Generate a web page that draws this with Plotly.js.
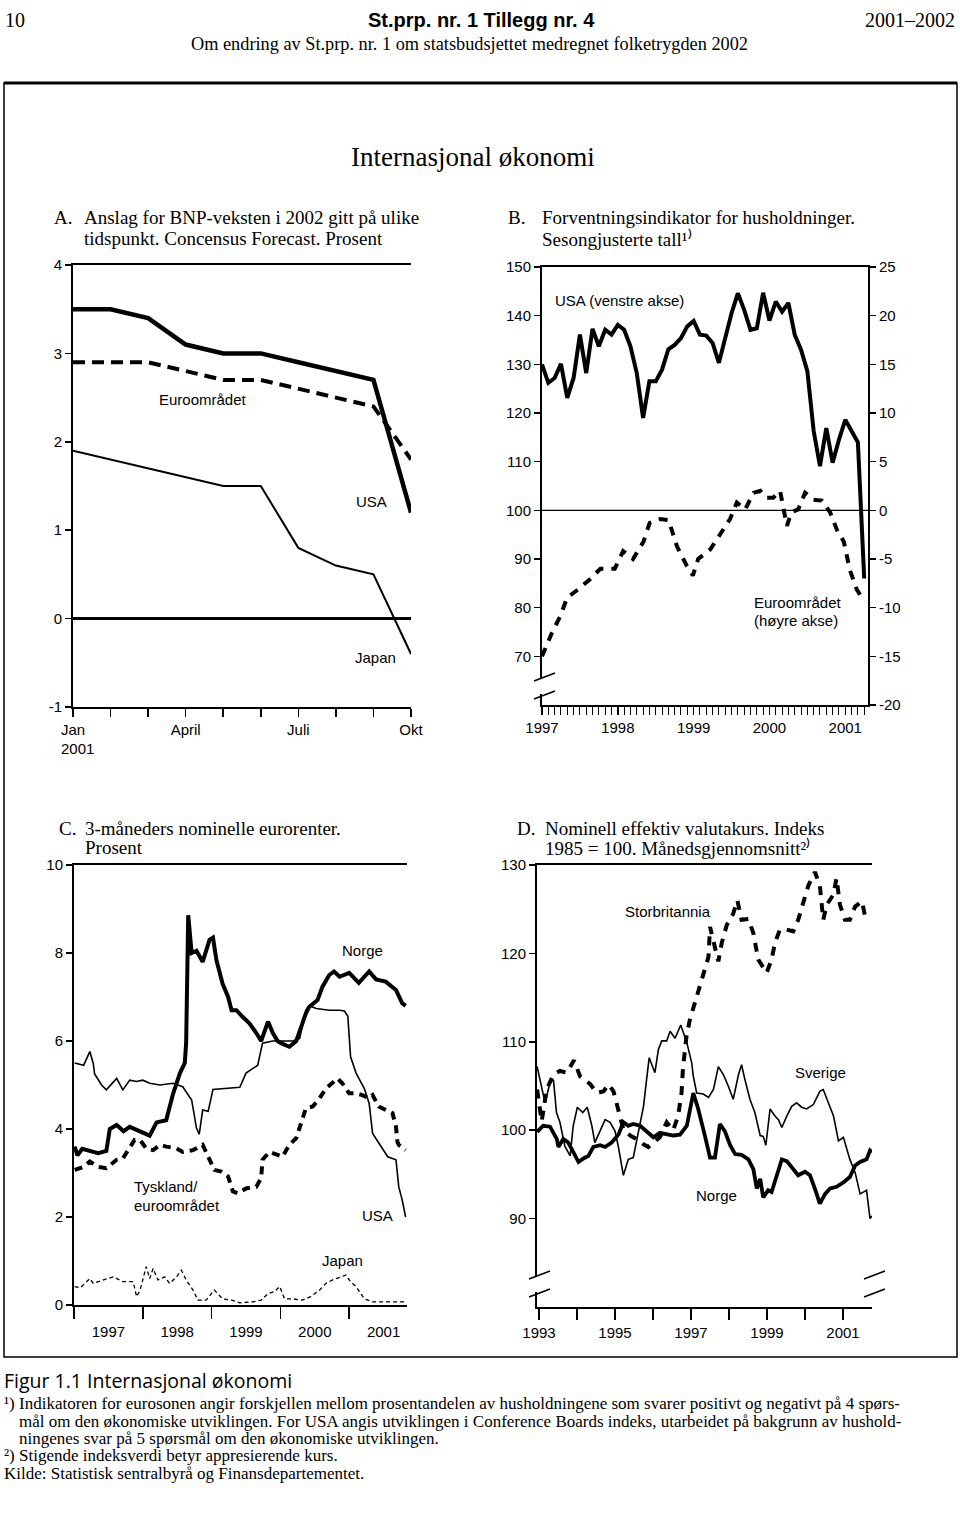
<!DOCTYPE html>
<html>
<head>
<meta charset="utf-8">
<script src="https://cdn.plot.ly/plotly-3.0.1.min.js"></script>
<style>html,body{margin:0;padding:0;background:#fff;}#chart{width:960px;height:1520px;}</style>
</head>
<body>
<div id="chart"></div>
<script>
// ---------- Panel A: BNP-vekst 2002, Consensus Forecast (Jan..Okt 2001) ----------
const monthsA = [0,1,2,3,4,5,6,7,8,9];
const labelMonthsA = [0,3,6,9];
const monthLabelsA = ['Jan','April','Juli','Okt'];
const minorMonthsA = [1,2,4,5,7,8];
const usaA   = [3.5,3.5,3.4,3.1,3.0,3.0,2.9,2.8,2.7,1.2];
const euroA  = [2.9,2.9,2.9,2.8,2.7,2.7,2.6,2.5,2.4,1.8];
const japanA = [1.9,1.8,1.7,1.6,1.5,1.5,0.8,0.6,0.5,-0.4];
const ticksA = [-1,0,1,2,3,4];
const tickTextA = ['-1','0','1','2','3','4'];

// ---------- Panel B: Forventningsindikator (monthly from Jan 1997) ----------
const usaB = [130,126.2,127.2,130.1,123.1,127.2,136.1,128.2,137.3,133.7,137.1,136.1,
  138.1,137.1,133.7,128.2,119,126.5,126.5,128.9,133.1,134,135.4,137.8,
  138.9,136.1,135.9,134.4,130.3,135.8,140.5,144.6,141.2,137.1,137.4,144.7,
  139,142.9,140.8,142.6,136.1,133,128.6,116.3,109.1,116.9,109.8,114.5,
  118.6,116.3,114,86];
const euroBx = [1997.00,1997.13,1997.24,1997.33,1997.48,1997.63,1997.77,1997.96,1998.07,1998.20,
  1998.34,1998.42,1998.56,1998.67,1998.78,1998.91,1998.99,1999.06,1999.22,1999.35,
  1999.48,1999.57,1999.68,1999.79,1999.88,1999.96,2000.05,2000.14,2000.23,2000.29,
  2000.38,2000.47,2000.58,2000.69,2000.80,2000.89,2000.98,2001.06,2001.15,2001.22];
const euroBy = [-15.0,-12.6,-10.9,-9.0,-8.1,-7.1,-6.0,-6.0,-4.2,-5.0,
  -3.2,-1.3,-0.9,-1.0,-3.7,-5.7,-6.7,-5.0,-4.0,-2.5,
  -0.9,0.8,0.1,1.8,2.0,1.3,1.3,2.0,-1.6,-0.2,
  0.1,1.8,1.1,1.0,-0.2,-2.0,-3.2,-6.1,-8.1,-9.0];
const yearsB = [1997,1998,1999,2000,2001];
const leftTicksB = [70,80,90,100,110,120,130,140,150];
const rightTicksB = [-20,-15,-10,-5,0,5,10,15,20,25];

// ---------- Panel C: 3-måneders eurorenter ----------
const norgeCx = [1997.01,1997.05,1997.12,1997.23,1997.35,1997.47,1997.52,1997.62,1997.72,1997.81,
  1997.96,1998.10,1998.20,1998.34,1998.44,1998.54,1998.61,1998.63,1998.66,1998.71,
  1998.78,1998.82,1998.87,1998.92,1998.97,1999.02,1999.07,1999.16,1999.24,1999.29,
  1999.36,1999.45,1999.55,1999.65,1999.72,1999.82,1999.89,1999.96,2000.01,2000.13,
  2000.23,2000.32,2000.37,2000.42,2000.54,2000.61,2000.71,2000.78,2000.86,2001.00,
  2001.14,2001.29,2001.39,2001.53,2001.68,2001.77,2001.82];
const norgeCy = [3.6,3.4,3.55,3.5,3.45,3.5,4.0,4.09,3.95,4.05,
  3.95,3.85,4.15,4.2,4.8,5.27,5.5,5.95,8.86,8.0,
  8.05,7.95,7.8,8.05,8.3,8.35,7.84,7.3,7.0,6.7,
  6.7,6.55,6.4,6.18,6.0,6.44,6.18,6.0,5.95,5.87,
  6.0,6.4,6.63,6.78,6.93,7.23,7.5,7.58,7.46,7.55,
  7.32,7.58,7.4,7.35,7.16,6.86,6.8];
const usaCx = [1997.01,1997.14,1997.23,1997.28,1997.30,1997.40,1997.47,1997.62,1997.71,1997.81,
  1997.91,1998.00,1998.10,1998.25,1998.44,1998.58,1998.71,1998.78,1998.82,1998.87,
  1998.95,1999.02,1999.41,1999.50,1999.67,1999.74,1999.89,2000.18,2000.28,2000.37,
  2000.42,2000.52,2000.71,2000.86,2000.93,2000.98,2001.02,2001.10,2001.22,2001.29,
  2001.34,2001.43,2001.56,2001.68,2001.72,2001.77,2001.82];
const usaCy = [5.5,5.45,5.76,5.49,5.25,5.0,4.89,5.15,4.89,5.11,
  5.08,5.11,5.04,5.0,5.04,4.96,4.66,4.02,3.88,4.43,
  4.4,4.9,4.95,5.27,5.45,5.95,6.0,6.0,6.06,6.7,
  6.8,6.74,6.7,6.7,6.68,6.56,5.64,5.27,4.92,4.58,
  3.9,3.67,3.37,3.3,2.69,2.39,2.0];
const tyskCx = [1997.01,1997.14,1997.23,1997.35,1997.47,1997.62,1997.71,1997.81,1997.88,1997.96,
  1998.05,1998.15,1998.25,1998.34,1998.49,1998.58,1998.73,1998.87,1998.97,1999.04,
  1999.14,1999.24,1999.31,1999.38,1999.50,1999.65,1999.72,1999.74,1999.84,1999.94,
  2000.03,2000.13,2000.23,2000.30,2000.37,2000.47,2000.57,2000.66,2000.76,2000.83,
  2000.90,2001.00,2001.10,2001.19,2001.29,2001.34,2001.43,2001.53,2001.63,2001.68,
  2001.70,2001.72,2001.82];
const tyskCy = [3.07,3.14,3.26,3.14,3.11,3.3,3.33,3.6,3.75,3.75,
  3.56,3.52,3.64,3.6,3.56,3.48,3.52,3.64,3.3,3.07,
  3.03,2.92,2.58,2.54,2.65,2.69,2.88,3.3,3.48,3.41,
  3.37,3.64,3.79,4.13,4.47,4.51,4.7,4.92,5.04,5.15,
  5.04,4.81,4.81,4.77,4.7,4.77,4.51,4.43,4.36,4.05,
  3.71,3.64,3.52];
const japanCx = [1997.01,1997.09,1997.23,1997.28,1997.43,1997.57,1997.71,1997.86,1997.91,1997.96,
  1998.05,1998.10,1998.15,1998.22,1998.32,1998.39,1998.49,1998.56,1998.63,1998.73,
  1998.80,1998.92,1999.04,1999.16,1999.29,1999.41,1999.60,1999.72,1999.82,1999.91,
  1999.99,2000.06,2000.18,2000.32,2000.44,2000.57,2000.66,2000.76,2000.88,2000.95,
  2001.02,2001.10,2001.22,2001.34,2001.53,2001.80];
const japanCy = [0.42,0.39,0.6,0.49,0.57,0.64,0.53,0.53,0.19,0.34,
  0.87,0.6,0.83,0.57,0.64,0.49,0.64,0.79,0.57,0.34,
  0.11,0.11,0.34,0.14,0.11,0.05,0.07,0.11,0.26,0.3,
  0.42,0.14,0.14,0.11,0.19,0.34,0.49,0.57,0.64,0.68,
  0.53,0.42,0.14,0.07,0.07,0.07];
const yearsC = [1997,1998,1999,2000,2001];
const ticksC = [0,2,4,6,8,10];

// ---------- Panel D: Nominell effektiv valutakurs ----------
const norgeDx = [1992.95,1993.11,1993.29,1993.47,1993.51,1993.64,1993.77,1993.90,1994.04,1994.17,
  1994.30,1994.43,1994.61,1994.74,1994.91,1995.09,1995.22,1995.35,1995.48,1995.66,
  1995.83,1996.01,1996.18,1996.36,1996.53,1996.71,1996.89,1997.06,1997.19,1997.37,
  1997.50,1997.63,1997.76,1997.89,1998.03,1998.16,1998.33,1998.51,1998.64,1998.73,
  1998.82,1998.90,1999.03,1999.12,1999.25,1999.39,1999.52,1999.69,1999.82,2000.00,
  2000.13,2000.26,2000.39,2000.53,2000.66,2000.83,2001.01,2001.18,2001.32,2001.45,
  2001.62,2001.71,2001.76];
const norgeDy = [99.8,100.5,100.4,99.0,98.1,99.0,98.6,97.5,96.4,96.8,
  97.1,98.1,98.3,98.1,98.6,99.5,100.9,100.5,100.7,100.5,
  99.9,99.2,99.7,99.5,99.4,99.5,100.5,104.2,102.4,99.3,
  96.9,96.9,100.7,99.9,98.3,97.3,97.2,96.7,95.6,93.4,
  94.5,92.4,93.2,93.0,94.9,96.7,96.5,95.6,94.9,95.3,
  94.9,93.4,91.7,92.8,93.4,93.6,94.1,94.7,96.0,96.4,
  96.7,97.7,97.5];
const sverigeDx = [1992.95,1993.07,1993.16,1993.29,1993.38,1993.46,1993.55,1993.68,1993.82,1993.90,
  1994.01,1994.15,1994.27,1994.39,1994.47,1994.74,1994.87,1995.00,1995.09,1995.22,
  1995.35,1995.48,1995.61,1995.75,1995.83,1995.90,1996.05,1996.14,1996.23,1996.36,
  1996.45,1996.58,1996.73,1996.89,1997.02,1997.06,1997.15,1997.32,1997.46,1997.59,
  1997.72,1997.85,1997.98,1998.11,1998.25,1998.33,1998.42,1998.55,1998.68,1998.82,
  1998.90,1998.97,1999.08,1999.21,1999.30,1999.39,1999.52,1999.65,1999.78,1999.91,
  2000.04,2000.22,2000.39,2000.48,2000.75,2000.88,2001.01,2001.18,2001.32,2001.45,
  2001.62,2001.71,2001.76];
const sverigeDy = [107.2,105,103.1,105.4,105.7,102,100.9,98.2,97.1,100.5,
  102.6,102,102.6,100.5,98.6,101.2,100.9,99.9,98.1,94.9,
  96.7,96.9,99.5,102.7,105.7,108.2,106.5,109.1,110.1,110.1,
  111.2,110.4,111.9,109.9,107.6,106.1,104.2,104.1,103.7,104.6,
  107.2,106.3,105,103.5,106.3,107.4,105.7,103.5,102,99.4,
  99.3,98.3,102.4,101.6,101.2,100.3,101.6,102.7,103.1,102.6,
  102.4,102.9,104.4,104.6,101.6,98.8,99.2,96.7,95.2,92.8,
  93.2,90,90.3];
const ukDx = [1992.95,1993.07,1993.20,1993.38,1993.55,1993.73,1993.92,1994.08,1994.35,1994.52,
  1994.70,1994.83,1994.96,1995.09,1995.22,1995.40,1995.57,1995.75,1995.88,1996.01,
  1996.18,1996.36,1996.53,1996.66,1996.75,1996.79,1996.88,1996.97,1997.14,1997.28,
  1997.46,1997.50,1997.59,1997.72,1997.81,1997.94,1998.11,1998.22,1998.33,1998.51,
  1998.64,1998.77,1998.99,1999.12,1999.21,1999.34,1999.51,1999.69,1999.82,1999.96,
  2000.09,2000.26,2000.39,2000.48,2000.57,2000.74,2000.83,2000.92,2001.05,2001.18,
  2001.32,2001.50,2001.58,2001.67];
const ukDy = [104.6,101,104.6,106.3,106.7,106.5,107.9,106.1,105.2,104.2,
  104.4,105.2,104.4,102.4,100.1,99.4,99.0,98.4,98.1,98.6,
  99.2,100.9,100,101.6,104.2,107.1,110.6,112.5,115.1,117,
  119.6,123,121.2,119.1,121.2,123.2,124.5,126,123.8,123.9,
  122.3,119.3,117.8,119.3,121.2,122.7,122.7,122.5,123.8,126,
  127.7,129.2,127.7,123.8,125.5,126.6,128.5,125.5,123.8,123.8,
  125.3,125.9,124.2,124.2];
const labelYearsD = [1993,1995,1997,1999,2001];
const minorYearsD = [1994,1996,1998,2000];
const ticksD = [90,100,110,120,130];

// ---------- helpers ----------
const W = 960, H = 1520;
const PX = v => v / W, PY = v => 1 - v / H;
const SANS = 'Liberation Sans, Arial, sans-serif';
const SERIF = 'Liberation Serif, Times New Roman, serif';
const tickFont = {family: SANS, size: 15, color: '#000'};
const base = {showline: true, linecolor: '#000', linewidth: 2, ticks: 'outside', tickcolor: '#000',
  tickwidth: 1.5, showgrid: false, zeroline: false, tickfont: tickFont, fixedrange: true};
function ax(extra) { return Object.assign({}, base, extra); }
const str = v => String(v);
const monthDates = usaB.map((_, i) => 1997 + i / 12);

const traces = [
  // A
  {x: monthsA, y: japanA, xaxis: 'x', yaxis: 'y', mode: 'lines', line: {color: '#000', width: 2}},
  {x: monthsA, y: euroA, xaxis: 'x', yaxis: 'y', mode: 'lines', line: {color: '#000', width: 4, dash: '12px,7px'}},
  {x: monthsA, y: usaA, xaxis: 'x', yaxis: 'y', mode: 'lines', line: {color: '#000', width: 4.5}},
  // B
  {x: monthDates, y: usaB, xaxis: 'x2', yaxis: 'y3', mode: 'lines', line: {color: '#000', width: 4}},
  {x: euroBx, y: euroBy, xaxis: 'x2', yaxis: 'y4', mode: 'lines', line: {color: '#000', width: 4, dash: '9px,8px'}},
  // C
  {x: japanCx, y: japanCy, xaxis: 'x3', yaxis: 'y5', mode: 'lines', line: {color: '#000', width: 1.3, dash: '4px,3px'}},
  {x: tyskCx, y: tyskCy, xaxis: 'x3', yaxis: 'y5', mode: 'lines', line: {color: '#000', width: 4, dash: '8px,6px'}},
  {x: usaCx, y: usaCy, xaxis: 'x3', yaxis: 'y5', mode: 'lines', line: {color: '#000', width: 1.6}},
  {x: norgeCx, y: norgeCy, xaxis: 'x3', yaxis: 'y5', mode: 'lines', line: {color: '#000', width: 4}},
  // D
  {x: ukDx, y: ukDy, xaxis: 'x4', yaxis: 'y7', mode: 'lines', line: {color: '#000', width: 4, dash: '9px,8px'}},
  {x: sverigeDx, y: sverigeDy, xaxis: 'x4', yaxis: 'y7', mode: 'lines', line: {color: '#000', width: 1.6}},
  {x: norgeDx, y: norgeDy, xaxis: 'x4', yaxis: 'y7', mode: 'lines', line: {color: '#000', width: 3.8}}
];

const layout = {
  width: W, height: H, margin: {l: 0, r: 0, t: 0, b: 0}, showlegend: false,
  paper_bgcolor: '#fff', plot_bgcolor: 'rgba(0,0,0,0)',
  // A
  xaxis: ax({domain: [PX(73), PX(411)], anchor: 'y', range: [0, 9], tickmode: 'array', tickvals: labelMonthsA,
    ticktext: monthLabelsA, ticklen: 8, mirror: true,
    minor: {tickmode: 'array', tickvals: minorMonthsA, ticks: 'outside', ticklen: 8, tickwidth: 1.5, tickcolor: '#000'}}),
  yaxis: ax({domain: [PY(707), PY(265)], anchor: 'x', range: [-1, 4], tickmode: 'array', tickvals: ticksA,
    ticktext: tickTextA, ticklen: 6, zeroline: true, zerolinewidth: 2.5, zerolinecolor: '#000'}),
  yaxis2: ax({overlaying: 'y', side: 'right', anchor: 'x', range: [-1, 4], tickmode: 'array', tickvals: ticksA,
    ticktext: tickTextA, ticklen: 6}),
  // B
  xaxis2: ax({domain: [PX(542), PX(868)], anchor: 'y3', range: [1997, 2001.3], tickmode: 'array',
    tickvals: yearsB, ticktext: yearsB.map(String), ticklen: 8, mirror: true,
    minor: {tickmode: 'linear', tick0: 1997, dtick: 1 / 12, ticks: 'outside', ticklen: 8, tickwidth: 1, tickcolor: '#000'}}),
  yaxis3: ax({domain: [PY(705), PY(267)], anchor: 'x2', range: [60, 150], tickmode: 'array',
    tickvals: leftTicksB, ticktext: leftTicksB.map(str), ticklen: 6}),
  yaxis4: ax({overlaying: 'y3', side: 'right', anchor: 'x2', range: [-20, 25], tickmode: 'array',
    tickvals: rightTicksB, ticktext: rightTicksB.map(str), ticklen: 6}),
  // C
  xaxis3: ax({domain: [PX(74), PX(407)], anchor: 'y5', range: [1997, 2001.84], tickmode: 'array',
    tickvals: yearsC.map(v => v + 0.5), ticktext: yearsC.map(String), ticklen: 12, tickcolor: 'rgba(0,0,0,0)', mirror: true,
    minor: {tickmode: 'array', tickvals: yearsC, ticks: 'outside', ticklen: 12, tickwidth: 1.5, tickcolor: '#000'}}),
  yaxis5: ax({domain: [PY(1305), PY(865)], anchor: 'x3', range: [0, 10], tickmode: 'array', tickvals: ticksC,
    ticktext: ticksC.map(str), ticklen: 6}),
  yaxis6: ax({overlaying: 'y5', side: 'right', anchor: 'x3', range: [0, 10], tickmode: 'array', tickvals: ticksC,
    ticktext: ticksC.map(str), ticklen: 6}),
  // D
  xaxis4: ax({domain: [PX(537), PX(872)], anchor: 'y7', range: [1992.947, 2001.763], tickmode: 'array',
    tickvals: labelYearsD, ticktext: labelYearsD.map(String), ticklen: 11, mirror: true,
    minor: {tickmode: 'array', tickvals: minorYearsD, ticks: 'outside', ticklen: 11, tickwidth: 1.5, tickcolor: '#000'}}),
  yaxis7: ax({domain: [PY(1307), PY(865)], anchor: 'x4', range: [80, 130], tickmode: 'array',
    tickvals: ticksD, ticktext: ticksD.map(str), ticklen: 6}),
  yaxis8: ax({overlaying: 'y7', side: 'right', anchor: 'x4', range: [80, 130], tickmode: 'array',
    tickvals: ticksD, ticktext: ticksD.map(str), ticklen: 6}),
  shapes: [],
  annotations: []
};

// outer frame
layout.shapes.push({type: 'rect', xref: 'paper', yref: 'paper', x0: PX(4), x1: PX(957), y0: PY(1357), y1: PY(83),
  line: {color: '#000', width: 1.5}, layer: 'below'});
layout.shapes.push({type: 'line', xref: 'paper', yref: 'paper', x0: PX(4), x1: PX(957), y0: PY(83), y1: PY(83),
  line: {color: '#000', width: 3}});
// B: reference line at right-axis zero
layout.shapes.push({type: 'line', xref: 'x2 domain', yref: 'y4', x0: 0, x1: 1, y0: 0, y1: 0,
  line: {color: '#000', width: 1.3}});
// axis break marks
function brk(x, yTop, yBot) {
  layout.shapes.push({type: 'rect', xref: 'paper', yref: 'paper', x0: PX(x - 4), x1: PX(x + 4),
    y0: PY(yBot - 1), y1: PY(yTop + 1), fillcolor: '#fff', line: {width: 0}});
  layout.shapes.push({type: 'line', xref: 'paper', yref: 'paper', x0: PX(x - 8), x1: PX(x + 13),
    y0: PY(yTop + 4), y1: PY(yTop - 4), line: {color: '#000', width: 1.5}});
  layout.shapes.push({type: 'line', xref: 'paper', yref: 'paper', x0: PX(x - 8), x1: PX(x + 13),
    y0: PY(yBot + 4), y1: PY(yBot - 4), line: {color: '#000', width: 1.5}});
}
brk(542, 677, 695);
brk(537, 1275, 1293);
brk(872, 1275, 1293);

function txt(text, x, y, opt) {
  opt = opt || {};
  layout.annotations.push({text: text, xref: 'paper', yref: 'paper', x: PX(x), y: PY(y), showarrow: false,
    xanchor: opt.anchor || 'left', yanchor: 'middle',
    font: {family: opt.family || SANS, size: opt.size || 15, color: '#000', weight: opt.weight || 'normal'}});
}
// header
txt('10', 3, 20, {family: SERIF, size: 20});
txt('St.prp. nr. 1 Tillegg nr. 4', 481, 20, {family: 'Liberation Sans Narrow, Arial Narrow, Liberation Sans, sans-serif', size: 20, weight: 'bold', anchor: 'center'});
txt('2001–2002', 957, 20, {family: SERIF, size: 20, anchor: 'right'});
txt('Om endring av St.prp. nr. 1 om statsbudsjettet medregnet folketrygden 2002', 469, 44, {family: SERIF, size: 18.3, anchor: 'center'});
txt('Internasjonal økonomi', 473, 157, {family: SERIF, size: 27, anchor: 'center'});
// panel titles
const TS = 19;
txt('A.', 52, 218, {family: SERIF, size: TS});
txt('Anslag for BNP-veksten i 2002 gitt på ulike', 82, 218, {family: SERIF, size: TS});
txt('tidspunkt. Concensus Forecast. Prosent', 82, 239, {family: SERIF, size: TS});
txt('B.', 506, 218, {family: SERIF, size: TS});
txt('Forventningsindikator for husholdninger.', 540, 218, {family: SERIF, size: TS});
txt('Sesongjusterte tall¹⁾', 540, 239, {family: SERIF, size: TS});
txt('C.', 57, 828, {family: SERIF, size: TS});
txt('3-måneders nominelle eurorenter.', 83, 828, {family: SERIF, size: TS});
txt('Prosent', 83, 848, {family: SERIF, size: TS});
txt('D.', 515, 828, {family: SERIF, size: TS});
txt('Nominell effektiv valutakurs. Indeks', 543, 828, {family: SERIF, size: TS});
txt('1985 = 100. Månedsgjennomsnitt²⁾', 543, 848, {family: SERIF, size: TS});
// panel A labels
txt('Euroområdet', 203, 400, {anchor: 'center'});
txt('USA', 371, 501, {anchor: 'center'});
txt('Japan', 375, 657, {anchor: 'center'});
txt('2001', 77, 748, {anchor: 'center'});
// panel B labels
txt('USA (venstre akse)', 553, 300);
txt('Euroområdet', 752, 602);
txt('(høyre akse)', 752, 620);
// panel C labels
txt('Norge', 362, 950, {anchor: 'center'});
txt('Tyskland/', 132, 1186);
txt('euroområdet', 132, 1205);
txt('USA', 377, 1215, {anchor: 'center'});
txt('Japan', 342, 1260, {anchor: 'center'});
// panel D labels
txt('Storbritannia', 668, 911, {anchor: 'center'});
txt('Sverige', 820, 1072, {anchor: 'center'});
txt('Norge', 716, 1195, {anchor: 'center'});
// footer
txt('Figur 1.1 Internasjonal økonomi', 2, 1380, {family: 'Open Sans, Noto Sans, sans-serif', size: 19.5});
const FS = 17;
txt('¹) Indikatoren for eurosonen angir forskjellen mellom prosentandelen av husholdningene som svarer positivt og negativt på 4 spørs-', 2, 1403, {family: SERIF, size: FS});
txt('mål om den økonomiske utviklingen. For USA angis utviklingen i Conference Boards indeks, utarbeidet på bakgrunn av hushold-', 17, 1421, {family: SERIF, size: FS});
txt('ningenes svar på 5 spørsmål om den økonomiske utviklingen.', 17, 1438, {family: SERIF, size: FS});
txt('²) Stigende indeksverdi betyr appresierende kurs.', 2, 1455, {family: SERIF, size: FS});
txt('Kilde: Statistisk sentralbyrå og Finansdepartementet.', 2, 1473, {family: SERIF, size: FS});

Plotly.newPlot('chart', traces, layout, {staticPlot: true, displayModeBar: false});
</script>
</body>
</html>
